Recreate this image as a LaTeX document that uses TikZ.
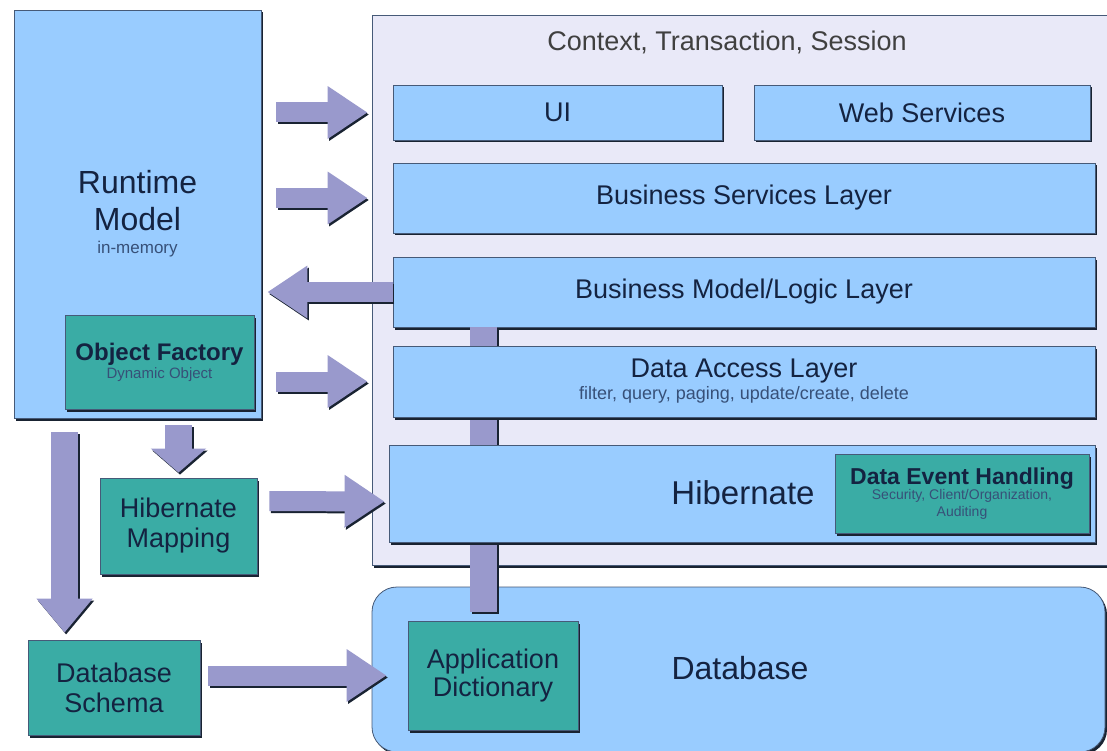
\documentclass[tikz,border=0pt]{standalone}
\usepackage{fontspec}
\setmainfont{Liberation Sans}
\usetikzlibrary{arrows.meta,shadows,positioning}

\definecolor{boxblue}{RGB}{153,204,255}
\definecolor{compteal}{RGB}{58,172,165}
\definecolor{ctxbg}{RGB}{233,233,248}
\definecolor{arrowc}{RGB}{153,153,204}
\definecolor{edgec}{RGB}{70,90,120}
\definecolor{shadec}{RGB}{25,35,50}
\definecolor{txtc}{RGB}{20,35,65}
\definecolor{subc}{RGB}{55,80,120}

% small second-line text
\newcommand\smalltxt[2]{{\color{subc}\fontsize{#1}{#1}\selectfont #2}}
% block arrow with a dark edge underneath
\newcommand\blockarrow[2][]{%
  \draw[fat,#1,draw=shadec,transform canvas={shift={(1.5pt,-2pt)}}] #2;
  \draw[fat,#1] #2;}

\begin{document}
\begin{tikzpicture}[x=1pt,y=-1pt,
    box/.style={draw=edgec, line width=0.8pt, inner sep=0pt, align=center, text=txtc,
      font=\fontsize{27}{30}\selectfont,
      drop shadow={shadow xshift=2pt, shadow yshift=-2.5pt, fill=shadec, opacity=1}},
    layer/.style={box, fill=boxblue},
    comp/.style={box, fill=compteal},
    fat/.style={line width=20pt, draw=arrowc, -{Triangle[length=40pt,width=50pt]}},
    fatv/.style={line width=27pt, -{Triangle[length=34pt,width=54pt]}},
    bar/.style={line width=27pt, -}]

  \useasboundingbox (0,0) rectangle (1107,751);
  \clip (0,0) rectangle (1107,751);
  \fill[white] (0,0) rectangle (1107,751);

  % context frame and database
  \node[box, fill=ctxbg, minimum width=743pt, minimum height=550pt] (ctx) at (743.5,290) {};
  \node[text=black!75, font=\fontsize{27}{30}\selectfont] (ctxlbl) at (727,42) {Context, Transaction, Session};
  \node[box, fill=boxblue, rounded corners=25pt, minimum width=733pt, minimum height=165pt] (db) at (738.5,669.5) {};
  \node[text=txtc, font=\fontsize{32}{36}\selectfont] (dblbl) at (740,668) {Database};

  % layers
  \node[layer, minimum width=329pt, minimum height=55pt] (ui) at (557.5,112.5) {UI};
  \node[layer, minimum width=336pt, minimum height=55pt] (ws) at (922,112.5) {Web Services};
  \node[layer, minimum width=702pt, minimum height=70pt] (bs) at (744,198) {Business Services Layer};
  \node[layer, minimum width=702pt, minimum height=70pt] (bm) at (744,292) {Business Model/Logic Layer};
  \node[comp, minimum width=170pt, minimum height=109pt] (ad) at (493,675.5) {Application\\[-2pt]Dictionary};

  \blockarrow[bar]{([xshift=-260.5pt]bm.south) -- ([xshift=-9.5pt,yshift=9pt]ad.north)}

  \node[layer, minimum width=702pt, minimum height=71pt] (dal) at (744,381.5)
    {Data Access Layer\\[-8pt]\smalltxt{18}{filter, query, paging, update/create, delete}};
  \node[layer, minimum width=706pt, minimum height=97pt] (hib) at (742,493.5) {};
  \node[text=txtc, font=\fontsize{33}{36}\selectfont] (hiblbl) at (743,493) {Hibernate};
  \node[comp, minimum width=254pt, minimum height=79pt, font=\fontsize{23}{28}\selectfont] (deh) at (962,493.5)
    {\textbf{Data Event Handling}\\[-13pt]\smalltxt{14}{Security, Client/Organization,}\\[-11pt]\smalltxt{14}{Auditing}};

  % left side
  \node[layer, minimum width=247pt, minimum height=408pt, font=\fontsize{32}{30}\selectfont] (rm) at (137.5,214)
    {Runtime\\[7pt]Model\\[-7pt]\smalltxt{17}{in-memory}};
  \node[comp, minimum width=189pt, minimum height=94pt, font=\fontsize{24}{30}\selectfont] (of) at (159.5,362)
    {\textbf{Object Factory}\\[-12pt]\smalltxt{15}{Dynamic Object}};
  \node[comp, minimum width=157pt, minimum height=96pt] (hm) at (178.5,526) {Hibernate\\Mapping};
  \node[comp, minimum width=172pt, minimum height=95pt] (ds) at (114,687.5) {Database\\Schema};

  % arrows
  \blockarrow[shorten <=15pt, shorten >=4pt]{(rm.east |- ui.west) -- (ctx.west |- ui.west)}
  \blockarrow[shorten <=15pt, shorten >=4pt]{(rm.east |- bs.west) -- (ctx.west |- bs.west)}
  \blockarrow[shorten >=6pt]{(bm.west) -- (rm.east |- bm.west)}
  \blockarrow[shorten <=15pt, shorten >=4pt]{(rm.east |- dal.west) -- (ctx.west |- dal.west)}
  \blockarrow[fatv, -{Triangle[length=24pt,width=54pt]}, shorten <=7pt, shorten >=5pt]{(hm.north |- rm.south) -- (hm.north)}
  \blockarrow[fatv, shorten <=14pt, shorten >=7pt]{([xshift=51pt]rm.south west) -- ([xshift=37pt]ds.north west)}
  \blockarrow{([xshift=12pt,yshift=25pt]hm.east) -- ([xshift=-4pt,yshift=-8pt]hib.west)}
  \blockarrow[shorten <=8pt, shorten >=21pt]{(ds.east |- ad.west) -- (ad.west)}
\end{tikzpicture}
\end{document}
